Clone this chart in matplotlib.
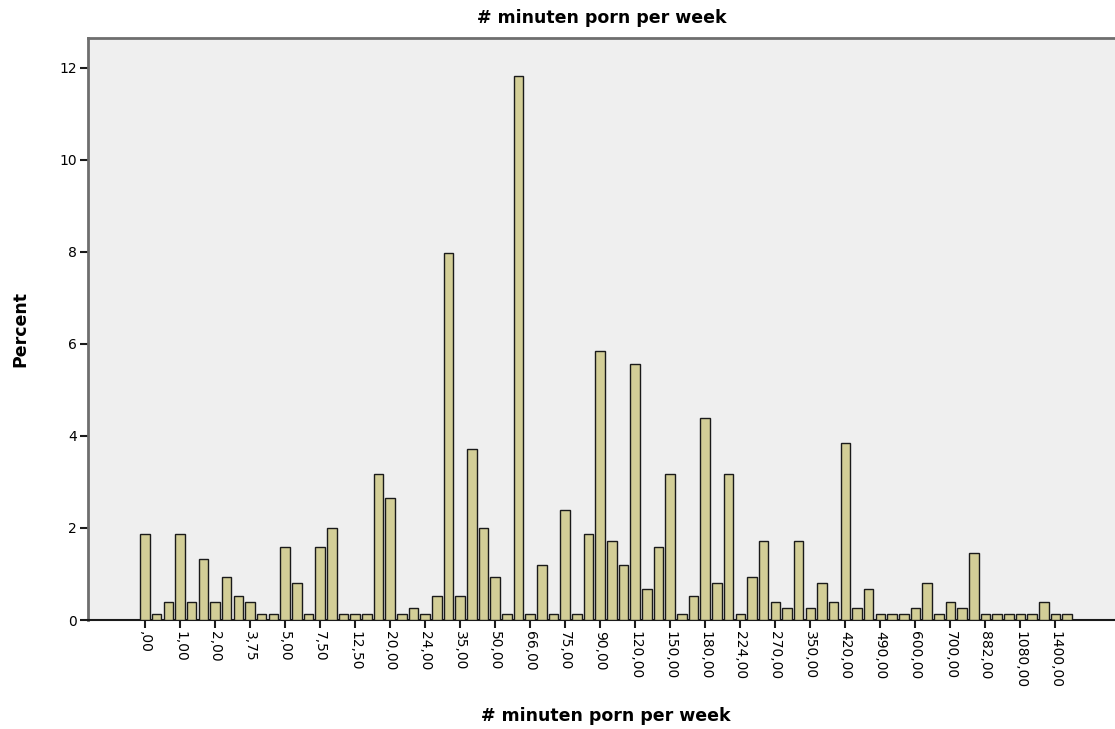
import numpy as np
import matplotlib
matplotlib.use("Agg")
import matplotlib.pyplot as plt

# percent per distinct value, left to right
percent = [
    1.86, 0.13, 0.40, 1.86, 0.40, 1.33, 0.40, 0.93, 0.53, 0.40,
    0.13, 0.13, 1.59, 0.80, 0.13, 1.59, 1.99, 0.13, 0.13, 0.13,
    3.18, 2.65, 0.13, 0.27, 0.13, 0.53, 7.97, 0.53, 3.72, 1.99,
    0.93, 0.13, 11.82, 0.13, 1.20, 0.13, 2.39, 0.13, 1.86, 5.84,
    1.72, 1.19, 5.57, 0.67, 1.59, 3.18, 0.13, 0.53, 4.38, 0.80,
    3.18, 0.13, 0.93, 1.72, 0.40, 0.27, 1.72, 0.27, 0.80, 0.40,
    3.85, 0.27, 0.67, 0.13, 0.13, 0.13, 0.27, 0.80, 0.13, 0.40,
    0.27, 1.46, 0.13, 0.13, 0.13, 0.13, 0.13, 0.40, 0.13, 0.13,
]
# labelled every third bar
tick_labels = [
    ",00", "1,00", "2,00", "3,75", "5,00", "7,50", "12,50", "20,00",
    "24,00", "35,00", "50,00", "66,00", "75,00", "90,00", "120,00",
    "150,00", "180,00", "224,00", "270,00", "350,00", "420,00", "490,00",
    "600,00", "700,00", "882,00", "1080,00", "1400,00",
]
yticks = [0, 2, 4, 6, 8, 10, 12]

BAR_COLOR = "#d3ce97"
BG_COLOR = "#efefef"
SPINE_COLOR = "#6e6e6e"

fig = plt.figure(figsize=(11.15, 7.29), dpi=100)
ax = fig.add_axes([88 / 1115, 109 / 729, 1 - 88 / 1115, (620 - 38) / 729])
ax.set_facecolor(BG_COLOR)

x = np.arange(len(percent))
ax.bar(x, percent, width=0.82, color=BAR_COLOR, edgecolor="#1a1a1a", linewidth=1.0, zorder=3)

ax.set_xlim(-4.88, 83.1)
ax.set_ylim(0, 12.65)

ax.set_xticks(x[::3])
ax.set_xticklabels(tick_labels, rotation=270, fontsize=10, va="top", ha="center")
ax.set_yticks(yticks)
ax.set_yticklabels([str(v) for v in yticks], fontsize=10)
ax.tick_params(axis="both", direction="out", length=6, width=1.5, color="#1a1a1a", pad=2)

for side in ["left", "top"]:
    ax.spines[side].set_color(SPINE_COLOR)
    ax.spines[side].set_linewidth(2)
ax.spines["bottom"].set_color("#1a1a1a")
ax.spines["bottom"].set_linewidth(1.5)
ax.spines["right"].set_visible(False)

fig.text(0.5 * (88 / 1115 + 1), 1 - 18 / 729, "# minuten porn per week",
         ha="center", va="center", fontsize=12.5, fontweight="bold")
fig.text(606 / 1115, 1 - 716 / 729, "# minuten porn per week",
         ha="center", va="center", fontsize=12.5, fontweight="bold")
fig.text(20 / 1115, 1 - 329 / 729, "Percent", rotation=90,
         ha="center", va="center", fontsize=12.5, fontweight="bold")

fig.savefig("out.png", dpi=100, facecolor="white")
